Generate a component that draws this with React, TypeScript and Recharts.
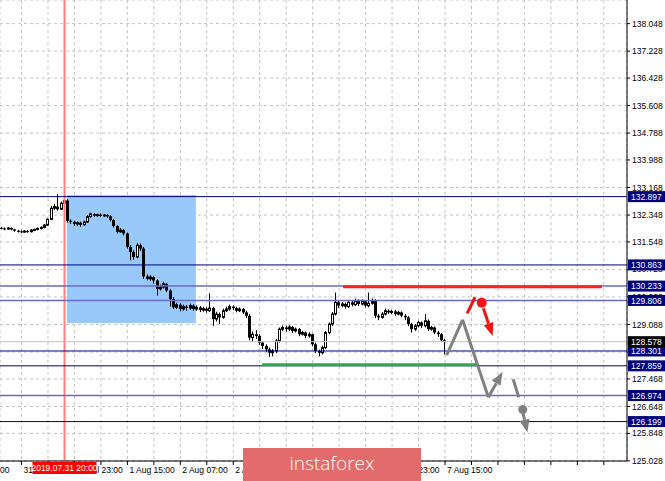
import React from 'react';
import {
  ComposedChart, Bar, XAxis, YAxis, CartesianGrid, ReferenceLine, ReferenceArea, ReferenceDot,
} from 'recharts';

// H1 candles, bar index 0 = 31 Jul 01:00
const opens = [
  131.97, 131.95, 131.93, 131.96, 131.92, 131.88, 131.86, 131.84, 131.87, 131.85, 131.90, 131.92, 131.95, 131.98, 132.05, 132.22, 132.55, 132.60, 132.52, 132.70,
  132.78, 132.18, 132.15, 132.08, 132.12, 132.06, 132.14, 132.30, 132.38, 132.33, 132.36, 132.32, 132.35, 132.31, 132.20, 132.02, 131.85, 131.90, 131.80, 131.40,
  131.25, 131.10, 131.45, 131.35, 130.52, 130.45, 130.50, 130.40, 130.15, 130.20, 130.30, 130.10, 129.85, 129.60, 129.68, 129.55, 129.62, 129.58, 129.65, 129.55,
  129.60, 129.52, 129.56, 129.50, 129.58, 129.25, 129.40, 129.30, 129.50, 129.55, 129.62, 129.58, 129.50, 129.55, 129.45, 129.35, 128.70, 128.80, 128.75, 128.55,
  128.45, 128.35, 128.25, 128.30, 128.60, 128.95, 129.00, 128.95, 129.02, 128.90, 128.95, 128.80, 128.85, 128.75, 128.80, 128.50, 128.30, 128.25, 128.40, 128.85,
  129.10, 129.40, 129.75, 129.65, 129.70, 129.62, 129.75, 129.68, 129.80, 129.70, 129.78, 129.65, 129.72, 129.80, 129.35, 129.30, 129.40, 129.50, 129.45, 129.48,
  129.40, 129.45, 129.35, 129.30, 129.10, 128.95, 129.05, 129.15, 129.05, 129.20, 128.95, 129.00, 128.85, 128.80, 128.62,
];
const highs = [
  132.00, 131.98, 131.99, 131.98, 131.94, 131.91, 131.89, 131.90, 131.90, 131.93, 131.95, 131.98, 132.01, 132.08, 132.25, 132.62, 132.68, 132.97, 132.75, 132.93,
  132.82, 132.22, 132.18, 132.16, 132.15, 132.18, 132.35, 132.42, 132.41, 132.39, 132.40, 132.38, 132.37, 132.34, 132.23, 132.05, 131.96, 131.93, 131.83, 131.45,
  131.30, 131.52, 131.50, 131.40, 130.58, 130.56, 130.54, 130.44, 130.28, 130.36, 130.33, 130.14, 129.90, 129.74, 129.72, 129.68, 129.67, 129.71, 129.69, 129.66,
  129.64, 129.62, 129.60, 130.02, 129.62, 129.47, 129.45, 129.56, 129.62, 129.68, 129.66, 129.62, 129.60, 129.58, 129.50, 129.40, 128.88, 128.92, 128.80, 128.60,
  128.50, 128.40, 128.36, 128.66, 129.00, 129.06, 129.05, 129.07, 129.05, 129.00, 128.98, 128.90, 128.88, 128.86, 128.82, 128.55, 128.34, 128.46, 128.90, 129.15,
  129.46, 130.04, 129.80, 129.76, 129.74, 129.80, 129.82, 129.86, 129.84, 129.84, 129.82, 130.04, 129.86, 129.84, 129.40, 129.46, 129.56, 129.54, 129.53, 129.52,
  129.50, 129.48, 129.40, 129.34, 129.14, 129.10, 129.20, 129.18, 129.40, 129.24, 129.05, 129.03, 128.90, 128.84, 128.66,
];
const lows = [
  131.92, 131.90, 131.91, 131.89, 131.85, 131.83, 131.81, 131.82, 131.82, 131.83, 131.87, 131.89, 131.92, 131.95, 132.02, 132.20, 132.50, 132.48, 132.50, 132.62,
  132.12, 132.08, 132.03, 132.02, 132.00, 132.03, 132.12, 132.27, 132.29, 132.30, 132.28, 132.29, 132.27, 132.16, 131.98, 131.80, 131.82, 131.74, 131.35, 131.00,
  131.02, 131.06, 131.28, 130.45, 130.40, 130.38, 130.30, 129.95, 130.10, 130.16, 130.05, 129.62, 129.55, 129.55, 129.48, 129.50, 129.50, 129.53, 129.50, 129.50,
  129.46, 129.47, 129.44, 129.46, 129.05, 129.18, 129.10, 129.26, 129.46, 129.50, 129.52, 129.45, 129.46, 129.40, 129.28, 128.62, 128.58, 128.66, 128.48, 128.36,
  128.28, 128.12, 128.14, 128.24, 128.55, 128.90, 128.88, 128.90, 128.84, 128.85, 128.74, 128.76, 128.68, 128.70, 128.44, 128.24, 128.14, 128.20, 128.36, 128.80,
  129.05, 129.36, 129.58, 129.60, 129.56, 129.58, 129.63, 129.64, 129.64, 129.66, 129.60, 129.60, 129.68, 129.28, 129.22, 129.26, 129.36, 129.40, 129.40, 129.35,
  129.36, 129.30, 129.22, 129.04, 128.85, 128.90, 129.00, 128.98, 129.00, 128.90, 128.90, 128.80, 128.72, 128.56, 128.20,
];
const closes = [
  131.95, 131.93, 131.96, 131.92, 131.88, 131.86, 131.84, 131.87, 131.85, 131.90, 131.92, 131.95, 131.98, 132.05, 132.22, 132.55, 132.60, 132.52, 132.70, 132.78,
  132.18, 132.15, 132.08, 132.12, 132.06, 132.14, 132.30, 132.38, 132.33, 132.36, 132.32, 132.35, 132.31, 132.20, 132.02, 131.85, 131.90, 131.80, 131.40, 131.25,
  131.10, 131.45, 131.35, 130.52, 130.45, 130.50, 130.40, 130.15, 130.20, 130.30, 130.10, 129.85, 129.60, 129.68, 129.55, 129.62, 129.58, 129.65, 129.55, 129.60,
  129.52, 129.56, 129.50, 129.58, 129.25, 129.40, 129.30, 129.50, 129.55, 129.62, 129.58, 129.50, 129.55, 129.45, 129.35, 128.70, 128.80, 128.75, 128.55, 128.45,
  128.35, 128.25, 128.30, 128.60, 128.95, 129.00, 128.95, 129.02, 128.90, 128.95, 128.80, 128.85, 128.75, 128.80, 128.50, 128.30, 128.25, 128.40, 128.85, 129.10,
  129.40, 129.75, 129.65, 129.70, 129.62, 129.75, 129.68, 129.80, 129.70, 129.78, 129.65, 129.72, 129.80, 129.35, 129.30, 129.40, 129.50, 129.45, 129.48, 129.40,
  129.45, 129.35, 129.30, 129.10, 128.95, 129.05, 129.15, 129.05, 129.20, 128.95, 129.00, 128.85, 128.80, 128.62, 128.578,
];

const yTicks = [138.048, 137.228, 136.428, 135.608, 134.788, 133.988, 133.168, 132.348, 131.548, 130.728, 129.908, 129.088, 128.268, 127.468, 126.648, 125.848, 125.028];
const xTicks = [6, 14, 22, 30, 38, 46, 54, 62, 70, 78, 86, 94, 102, 110, 118, 126, 134, 142, 150, 158, 166, 174, 182];
// labels under the instaforex banner (5 Aug 15:00, 6 Aug 07:00) are hidden in the source
const xLabelBars = [6, 22, 38, 54, 70, 118, 134];
const xLabelText = ['31 Jul 07:00', '31 Jul 23:00', '1 Aug 15:00', '2 Aug 07:00', '2 Aug 23:00', '6 Aug 23:00', '7 Aug 15:00'];

const levels = [132.897, 130.863, 130.233, 129.806, 128.301, 127.859, 126.974, 126.199];
const currentPrice = 128.578;
const markerBar = 19;
const markerLabel = '2019.07.31 20:00';

// highlighted box (bars / prices)
const zoneBars = [19.75, 58.7];
const zonePrices = [129.134, 132.945];

const resistance = [{ x: 103.2, y: 130.21 }, { x: 181.4, y: 130.21 }];
const support = [{ x: 78.7, y: 127.89 }, { x: 143.6, y: 127.89 }];

// forecast sketch
const grayPath = [{ x: 134.5, y: 128.18 }, { x: 139.3, y: 129.23 }, { x: 147.1, y: 126.92 }];
const grayUp = [{ x: 147.1, y: 126.92 }, { x: 151.4, y: 127.68 }];
const grayStub = [{ x: 154.6, y: 127.46 }, { x: 156.3, y: 126.92 }];
const grayDot = { x: 157.5, y: 126.56 };
const grayDown = [{ x: 157.6, y: 126.44 }, { x: 158.9, y: 125.87 }];
const redStub = [{ x: 140.7, y: 129.42 }, { x: 143.05, y: 129.9 }];
const redDot = { x: 145.1, y: 129.74 };
const redDown = [{ x: 145.6, y: 129.57 }, { x: 148.4, y: 128.75 }];

const rows = opens.map((o, i) => ({
  i, open: o, high: highs[i], low: lows[i], close: closes[i], range: [lows[i], highs[i]],
}));

const FONT = "'Liberation Sans', Arial, sans-serif";
const NAVY = '#00007f';
const LIGHT_LEVELS = [130.233, 129.806, 126.974];
const Y_DOMAIN = [125.025, 138.751];
const X_DOMAIN = [-0.5, 189];

const Candle = (props: any) => {
  const { x, y, width, height, payload } = props;
  if (!payload || height == null) return null;
  const { open, close, high, low } = payload;
  const cx = Math.floor(x + width / 2) + 0.5;
  const k = high > low ? height / (high - low) : 0;
  const yo = y + (high - open) * k;
  const yc = y + (high - close) * k;
  const top = Math.min(yo, yc);
  const bh = Math.max(Math.abs(yc - yo), 1);
  return (
    <g>
      <line x1={cx} x2={cx} y1={y} y2={y + height} stroke="#000" strokeWidth={1} />
      {close > open
        ? <rect x={cx - 1} y={top} width={2} height={bh} fill="#fff" stroke="#000" strokeWidth={1} />
        : <rect x={cx - 1.5} y={top} width={3} height={bh} fill="#000" />}
    </g>
  );
};

const segShape = (color: string, w: number, head: boolean) => (p: any) => {
  const { x1, y1, x2, y2 } = p;
  if (!head) return <line x1={x1} y1={y1} x2={x2} y2={y2} stroke={color} strokeWidth={w} />;
  const a = Math.atan2(y2 - y1, x2 - x1);
  const L = 13, hw = 5;
  const bx = x2 - L * Math.cos(a), by = y2 - L * Math.sin(a);
  const px = -Math.sin(a) * hw, py = Math.cos(a) * hw;
  return (
    <g>
      <line x1={x1} y1={y1} x2={bx} y2={by} stroke={color} strokeWidth={w} />
      <polygon points={`${x2},${y2} ${bx + px},${by + py} ${bx - px},${by - py}`} fill={color} />
    </g>
  );
};

// price boxes on the right scale (drawn by a second, 1px axis so they sit above the tick labels)
const LevelTick = (props: any) => {
  const { x, y, payload } = props;
  const v = payload.value;
  const bg = v === currentPrice ? '#000' : NAVY;
  return (
    <g>
      <rect x={x - 36} y={y - 5.5} width={37} height={11} fill={bg} />
      <text x={x - 33} y={y + 3.2} fill="#fff" fontSize={8.5} fontFamily={FONT}>{v.toFixed(3)}</text>
    </g>
  );
};

const MarkerTick = (props: any) => {
  const { x, y } = props;
  return (
    <g>
      <rect x={x - 32} y={y - 18} width={64} height={12} fill="#ff0000" />
      <text x={x} y={y - 9} fill="#fff" fontSize={8.5} fontFamily={FONT} textAnchor="middle">{markerLabel}</text>
    </g>
  );
};

const XTick = (props: any) => {
  const { x, y, payload } = props;
  const idx = xLabelBars.indexOf(payload.value);
  if (idx < 0) return null;
  return (
    <text x={x + 2} y={y + 8} fill="#000" fontSize={8.5} fontFamily={FONT}>{xLabelText[idx]}</text>
  );
};

export default function App() {
  return (
    <div style={{ position: 'absolute', left: 0, top: 0, width: 665, height: 481, background: '#fff', overflow: 'hidden' }}>
      <ComposedChart width={665} height={481} data={rows} margin={{ top: 0, right: 0, bottom: 0, left: 0 }}>
        <CartesianGrid stroke="#c4c4c4" strokeDasharray="3 3" />
        <XAxis dataKey="i" type="number" domain={X_DOMAIN} allowDataOverflow ticks={xTicks} interval={0}
          height={19} tickSize={4} tickMargin={0} axisLine={{ stroke: '#000' }} tickLine={{ stroke: '#000' }} tick={<XTick />} />
        <XAxis xAxisId="mk" dataKey="i" type="number" domain={X_DOMAIN} allowDataOverflow ticks={[markerBar]} interval={0}
          height={1} tickSize={0} tickMargin={0} axisLine={false} tickLine={false} tick={<MarkerTick />} />
        <YAxis orientation="right" width={37} domain={Y_DOMAIN} allowDataOverflow ticks={yTicks} interval={0}
          tickSize={3} tickMargin={2} axisLine={{ stroke: '#000' }} tickLine={{ stroke: '#000' }}
          tick={{ fontSize: 8.5, fill: '#000', fontFamily: FONT }} tickFormatter={(v: number) => v.toFixed(3)} />
        <YAxis yAxisId="lv" orientation="right" width={1} domain={Y_DOMAIN} allowDataOverflow
          ticks={[...levels, currentPrice]} interval={0} tickSize={0} tickMargin={0}
          axisLine={false} tickLine={false} tick={<LevelTick />} />
        <ReferenceArea x1={zoneBars[0]} x2={zoneBars[1]} y1={zonePrices[0]} y2={zonePrices[1]} fill="#99c9fa" fillOpacity={1} stroke="none" />
        <ReferenceLine x={markerBar} stroke="#ff7f7f" strokeWidth={2} />
        <Bar dataKey="range" barSize={3} shape={Candle} isAnimationActive={false} />
        <ReferenceLine y={currentPrice} stroke="#c0c0c0" />
        {levels.map((v) => {
          const light = LIGHT_LEVELS.includes(v);
          return (
            <ReferenceLine key={v} y={v} stroke={light ? '#6a6ac4' : NAVY} strokeWidth={light ? 1.5 : 1} />
          );
        })}
        <ReferenceLine segment={resistance} stroke="#ff2020" strokeWidth={3} />
        <ReferenceLine segment={support} stroke="#2eaa4e" strokeWidth={3} />
        <ReferenceLine segment={[grayPath[0], grayPath[1]]} shape={segShape('#808080', 3, false)} />
        <ReferenceLine segment={[grayPath[1], grayPath[2]]} shape={segShape('#808080', 3, false)} />
        <ReferenceLine segment={grayUp} shape={segShape('#808080', 3, true)} />
        <ReferenceLine segment={grayStub} shape={segShape('#808080', 3, false)} />
        <ReferenceLine segment={grayDown} shape={segShape('#808080', 3, true)} />
        <ReferenceDot x={grayDot.x} y={grayDot.y} r={4.5} fill="#808080" stroke="none" />
        <ReferenceLine segment={redStub} shape={segShape('#f01515', 3, false)} />
        <ReferenceLine segment={redDown} shape={segShape('#f01515', 3, true)} />
        <ReferenceDot x={redDot.x} y={redDot.y} r={5} fill="#f01515" stroke="none" />
      </ComposedChart>
      <div style={{ position: 'absolute', left: 0, top: 465, fontSize: 8.5, fontFamily: FONT, color: '#000' }}>00</div>
      <div style={{
        position: 'absolute', left: 243, top: 448, width: 178, height: 33, background: '#e36b6b',
        color: '#fff', fontFamily: "'Open Sans', sans-serif", fontWeight: 300, fontSize: 19,
        lineHeight: '31px', textAlign: 'center',
      }}>instaforex</div>
    </div>
  );
}
